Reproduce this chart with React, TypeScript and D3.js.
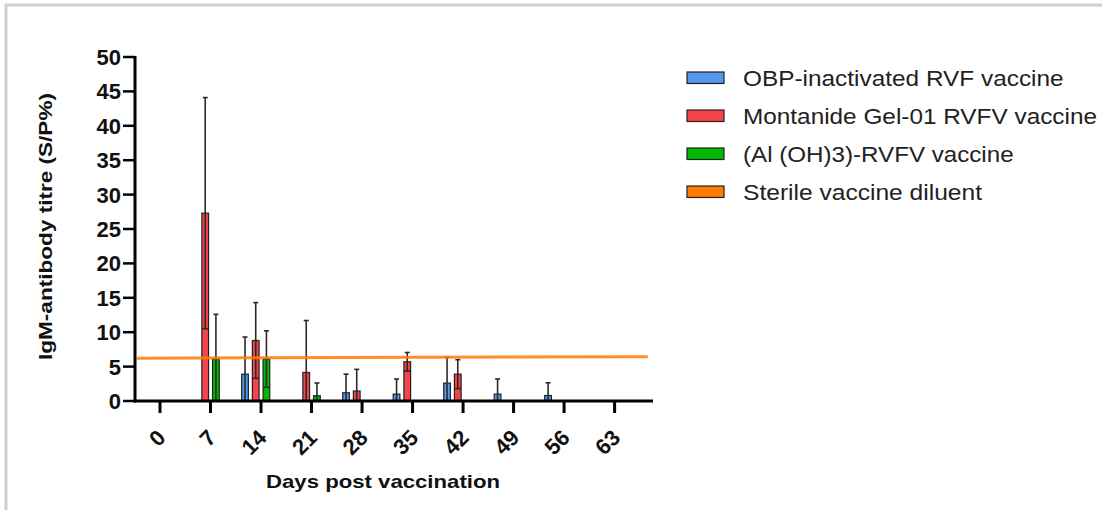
import React from "react";
import * as d3 from "d3";

// days post vaccination (x ticks)
const days = [0, 7, 14, 21, 28, 35, 42, 49, 56, 63];
const yTicks = [0, 5, 10, 15, 20, 25, 30, 35, 40, 45, 50];

const seriesNames = [
  "OBP-inactivated RVF vaccine",
  "Montanide Gel-01 RVFV vaccine",
  "(Al (OH)3)-RVFV vaccine",
  "Sterile vaccine diluent",
];
const seriesColors = ["#5597ec", "#f5434b", "#00ba00", "#ff7b00"];

// mean IgM titre per day
const obpMean = [0, 0, 3.9, 0, 1.2, 1.0, 2.6, 1.0, 0.8, 0];
const montMean = [0, 27.3, 8.8, 4.15, 1.45, 5.7, 3.9, 0, 0, 0];
const alMean = [0, 6.1, 6.1, 0.77, 0, 0, 0, 0, 0, 0];
const sterileMean = [0, 0, 0, 0, 0, 0, 0, 0, 0, 0];

// standard deviation per day
const obpSd = [0, 0, 5.4, 0, 2.7, 2.2, 3.75, 2.2, 1.85, 0];
const montSd = [0, 16.8, 5.5, 7.55, 3.15, 1.35, 2.1, 0, 0, 0];
const alSd = [0, 6.5, 4.1, 1.85, 0, 0, 0, 0, 0, 0];
const sterileSd = [0, 0, 0, 0, 0, 0, 0, 0, 0, 0];

// sterile diluent cut-off line (drawn as a line across the plot)
const cutoffDays = [-3.2, 67.6];
const cutoffValues = [6.23, 6.44];

const means = [obpMean, montMean, alMean, sterileMean];
const sds = [obpSd, montSd, alSd, sterileSd];

const x = d3.scaleLinear().domain([0, 63]).range([160, 614.6]);
const y = d3.scaleLinear().domain([0, 50]).range([401, 57]);
const sub = d3
  .scaleBand<string>()
  .domain(seriesNames)
  .range([-19.35, 19.45])
  .paddingInner(0.374);

const cutoffLine = d3
  .line<number>()
  .x((d, i) => x(cutoffDays[i]))
  .y((d) => y(d));

const font = "Liberation Sans, Arial, sans-serif";

const Bars = () => {
  const bw = sub.bandwidth();
  return (
    <g>
      {seriesNames.map((name, s) =>
        days.map((day, i) => {
          const m = means[s][i];
          const sd = sds[s][i];
          if (m <= 0) return null;
          const bx = x(day) + (sub(name) || 0);
          const cx = bx + bw / 2;
          const top = y(m + sd);
          const low = m - sd;
          const bottom = low > 0 ? y(low) : y(0);
          return (
            <g key={name + day}>
              <rect
                x={bx}
                y={y(m)}
                width={bw}
                height={y(0) - y(m)}
                fill={seriesColors[s]}
                stroke="#222"
                strokeWidth={1.2}
              />
              {sd > 0 && (
                <g stroke="#2a2a2a" strokeWidth={1.6}>
                  <line x1={cx} x2={cx} y1={top} y2={bottom} />
                  <line x1={cx - 2.5} x2={cx + 2.5} y1={top} y2={top} />
                  {low > 0 && (
                    <line x1={bx} x2={bx + bw} y1={bottom} y2={bottom} />
                  )}
                </g>
              )}
            </g>
          );
        })
      )}
    </g>
  );
};

const Axes = () => (
  <g fill="#111">
    <line x1={135} x2={135} y1={56} y2={402.5} stroke="#000" strokeWidth={3} />
    <line x1={134} x2={653} y1={401} y2={401} stroke="#000" strokeWidth={3} />
    {yTicks.map((t) => (
      <g key={t}>
        <line x1={123} x2={135} y1={y(t)} y2={y(t)} stroke="#000" strokeWidth={2.5} />
        <text
          x={121}
          y={y(t)}
          dy="0.36em"
          textAnchor="end"
          fontSize={22}
          fontWeight="bold"
          fontFamily={font}
        >
          {t}
        </text>
      </g>
    ))}
    {days.map((d) => (
      <g key={d}>
        <line x1={x(d)} x2={x(d)} y1={401} y2={413} stroke="#000" strokeWidth={3} />
        <text
          transform={`translate(${x(d) + 7},${439}) rotate(-45)`}
          textAnchor="end"
          fontSize={22}
          fontWeight="bold"
          fontFamily={font}
        >
          {d}
        </text>
      </g>
    ))}
    <text
      x={383}
      y={488}
      textAnchor="middle"
      fontSize={19}
      fontWeight="bold"
      textLength={234}
      lengthAdjust="spacingAndGlyphs"
      fontFamily={font}
    >
      Days post vaccination
    </text>
    <text
      transform="translate(52,226.5) rotate(-90)"
      textAnchor="middle"
      fontSize={18}
      fontWeight="bold"
      textLength={267}
      lengthAdjust="spacingAndGlyphs"
      fontFamily={font}
    >
      IgM-antibody titre (S/P%)
    </text>
  </g>
);

const legendWidths = [320.6, 354, 270.6, 239];

const Legend = () => (
  <g>
    {seriesNames.map((name, i) => {
      const base = 86 + i * 38;
      return (
        <g key={name}>
          <rect
            x={687}
            y={base - 14}
            width={37}
            height={11.5}
            fill={seriesColors[i]}
            stroke="#222"
            strokeWidth={1.2}
          />
          <text
            x={743}
            y={base}
            fontSize={22}
            fill="#222"
            textLength={legendWidths[i]}
            lengthAdjust="spacingAndGlyphs"
            fontFamily={font}
          >
            {name}
          </text>
        </g>
      );
    })}
  </g>
);

export default function App() {
  return (
    <svg
      width={1102}
      height={510}
      style={{ position: "absolute", left: 0, top: 0, background: "#fff" }}
    >
      <rect x={6} y={5} width={1200} height={600} fill="none" stroke="#cfcfcf" strokeWidth={3} />
      <Bars />
      <path
        d={cutoffLine(cutoffValues) || ""}
        fill="none"
        stroke={seriesColors[3]}
        strokeOpacity={0.85}
        strokeWidth={3}
      />
      <Axes />
      <Legend />
    </svg>
  );
}
